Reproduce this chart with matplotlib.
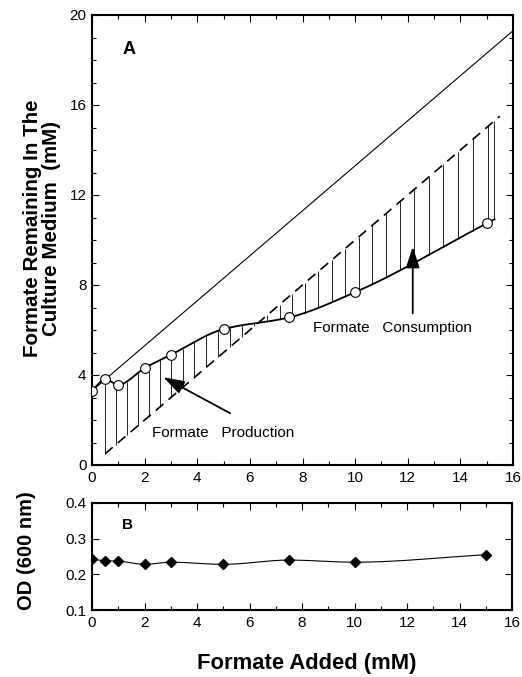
import numpy as np
import matplotlib
matplotlib.use("Agg")
from matplotlib import pyplot as plt
from matplotlib.ticker import MultipleLocator

plt.rcParams['font.family'] = ['Liberation Sans', 'DejaVu Sans']

# formate added (mM)
formate_added = [0, 0.5, 1, 2, 3, 5, 7.5, 10, 15]
# panel A: formate remaining in medium (mM)
formate_remaining = [3.30, 3.81, 3.57, 4.31, 4.90, 6.04, 6.56, 7.68, 10.74]
# panel B: OD 600 nm
od600 = [0.242, 0.238, 0.237, 0.228, 0.234, 0.228, 0.240, 0.234, 0.255]

initial_formate = 3.3
added_line_x = [0.5, 15.5]


def pchip(x, y, xs):
    # monotone cubic interpolation, linear extension past the ends
    x = np.asarray(x, float)
    y = np.asarray(y, float)
    h = np.diff(x)
    delta = np.diff(y) / h
    d = np.zeros_like(y)
    for k in range(1, len(x) - 1):
        if delta[k - 1] * delta[k] <= 0:
            d[k] = 0
        else:
            w1 = 2 * h[k] + h[k - 1]
            w2 = h[k] + 2 * h[k - 1]
            d[k] = (w1 + w2) / (w1 / delta[k - 1] + w2 / delta[k])
    d[0] = delta[0]
    d[-1] = delta[-1]
    xs = np.asarray(xs, float)
    out = np.empty_like(xs)
    for i, xv in enumerate(xs):
        if xv >= x[-1]:
            out[i] = y[-1] + d[-1] * (xv - x[-1])
            continue
        k = min(max(np.searchsorted(x, xv) - 1, 0), len(x) - 2)
        t = (xv - x[k]) / h[k]
        h00 = 2 * t**3 - 3 * t**2 + 1
        h10 = t**3 - 2 * t**2 + t
        h01 = -2 * t**3 + 3 * t**2
        h11 = t**3 - t**2
        out[i] = h00 * y[k] + h10 * h[k] * d[k] + h01 * y[k + 1] + h11 * h[k] * d[k + 1]
    return out


fig = plt.figure(figsize=(5.22, 6.77), dpi=100)
axA = fig.add_axes([92 / 522, 1 - 465 / 677, 421 / 522, 450 / 677])
axB = fig.add_axes([92 / 522, 1 - 610 / 677, 420 / 522, 107 / 677])

# --- panel A ---
xc = np.linspace(0, 15.3, 400)
yc = pchip(formate_added, formate_remaining, xc)
axA.plot(xc, yc, color='k', lw=1.3, zorder=3)

xt = np.array([0, 16])
axA.plot(xt, xt + initial_formate, color='k', lw=0.8)

axA.plot(added_line_x, added_line_x, color='k', lw=1.2, dashes=(6, 4))

# vertical hatching between added line and measured curve
hx = [0.5]
while hx[-1] < 15.2:
    hx.append(hx[-1] + 0.40 + 0.012 * hx[-1])
hx = np.array(hx[:-1] + [15.28])
hy = pchip(formate_added, formate_remaining, hx)
axA.vlines(hx, np.minimum(hx, hy), np.maximum(hx, hy), color='k', lw=0.6)

axA.plot(formate_added, formate_remaining, 'o', ms=7, mfc='white', mec='k',
         mew=0.8, zorder=4)

axA.text(1.15, 18.45, 'A', fontsize=13, fontweight='bold', va='center')
axA.text(2.27, 1.41, 'Formate   Production', fontsize=11, va='center')
axA.text(8.41, 6.07, 'Formate   Consumption', fontsize=11, va='center')
arrow = dict(arrowstyle='-|>,head_length=0.8,head_width=0.26', color='k',
             lw=1.3, mutation_scale=16, shrinkA=0, shrinkB=0)
axA.annotate('', xy=(2.71, 3.9), xytext=(5.25, 2.3), arrowprops=arrow)
axA.annotate('', xy=(12.19, 9.7), xytext=(12.19, 6.74), arrowprops=arrow)

axA.set_xlim(0, 16)
axA.set_ylim(0, 20)
axA.xaxis.set_major_locator(MultipleLocator(2))
axA.xaxis.set_minor_locator(MultipleLocator(1))
axA.yaxis.set_major_locator(MultipleLocator(4))
axA.yaxis.set_minor_locator(MultipleLocator(1))

# --- panel B ---
xb = np.linspace(0, 15, 300)
axB.plot(xb, pchip(formate_added, od600, xb), color='k', lw=0.8)
axB.plot(formate_added, od600, 'D', ms=5.5, color='k')
axB.text(1.15, 0.339, 'B', fontsize=11, fontweight='bold', va='center')
axB.set_xlim(0, 16)
axB.set_ylim(0.1, 0.4)
axB.xaxis.set_major_locator(MultipleLocator(2))
axB.xaxis.set_minor_locator(MultipleLocator(1))
axB.set_yticks([0.1, 0.2, 0.3, 0.4], ['0.1', '0.2', '0.3', '0.4'])

for ax in (axA, axB):
    for s in ax.spines.values():
        s.set_linewidth(1.5)
    ax.tick_params(which='both', direction='in', top=True, right=True,
                   labelsize=11, width=0.8, pad=4)
    ax.tick_params(which='major', length=5)
    ax.tick_params(which='minor', length=3)

fig.text(42 / 522, 1 - 228 / 677, 'Formate Remaining In The\nCulture Medium  (mM)',
         rotation=90, ha='center', va='center', multialignment='center',
         fontsize=14.8, fontweight='bold', linespacing=0.95)
fig.text(26 / 522, 1 - 551 / 677, 'OD (600 nm)', rotation=90, ha='center',
         va='center', fontsize=14.5, fontweight='bold')
fig.text(307 / 522, 1 - 663 / 677, 'Formate Added (mM)', ha='center',
         va='center', fontsize=15.8, fontweight='bold')

fig.savefig('out.png', dpi=100)
